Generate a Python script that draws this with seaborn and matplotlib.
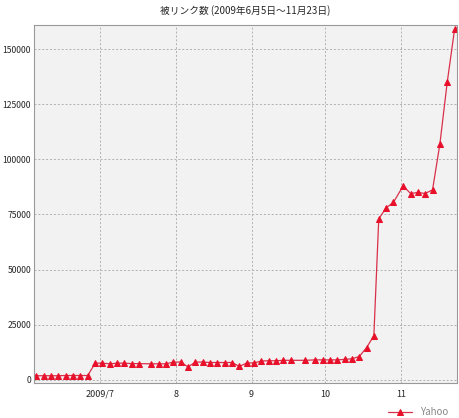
import matplotlib
matplotlib.use("Agg")
import matplotlib.pyplot as plt
import seaborn as sns
import pandas as pd

dates = ["2009-06-05","2009-06-08","2009-06-11","2009-06-14","2009-06-17","2009-06-20","2009-06-23","2009-06-26",
         "2009-06-29","2009-07-02","2009-07-05","2009-07-08","2009-07-11","2009-07-14","2009-07-17",
         "2009-07-22","2009-07-25","2009-07-28","2009-07-31","2009-08-03","2009-08-06","2009-08-09","2009-08-12",
         "2009-08-15","2009-08-18","2009-08-21","2009-08-24","2009-08-27","2009-08-30","2009-09-02","2009-09-05",
         "2009-09-08","2009-09-11","2009-09-14","2009-09-17","2009-09-23","2009-09-27","2009-09-30","2009-10-03",
         "2009-10-06","2009-10-09","2009-10-12","2009-10-15","2009-10-18","2009-10-21","2009-10-23","2009-10-26",
         "2009-10-29","2009-11-02","2009-11-05","2009-11-08","2009-11-11","2009-11-14","2009-11-17","2009-11-20",
         "2009-11-23"]
yahoo = [1800,1800,1800,1800,1900,1900,1900,1900,
         7500,7500,7200,7500,7500,7300,7300,
         7200,7200,7200,8000,8000,5800,8000,8000,
         7800,7800,7800,7800,6000,7600,7600,8500,
         8600,8600,8800,8800,8800,9000,9000,9000,
         9000,9200,9500,10500,14500,20000,73000,78000,
         80500,88000,84500,85000,84500,86200,107000,135000,
         159000]
df = pd.DataFrame({"date": pd.to_datetime(dates), "Yahoo": yahoo})

sns.set_style("white")
plt.rcParams['font.family'] = ['Noto Sans CJK JP', 'DejaVu Sans']

fig = plt.figure(figsize=(4.6, 4.18), dpi=100)
ax = fig.add_axes([34/460, 1-383/418, 423/460, 358/418])
ax.set_facecolor("#f2f2f2")
sns.lineplot(data=df, x="date", y="Yahoo", ax=ax, color="#d9304a", lw=0.9,
             marker="^", markersize=5, markerfacecolor="#e8102a", markeredgecolor="#e8102a",
             legend=False)
ax.set_xlim(pd.Timestamp("2009-06-04"), pd.Timestamp("2009-11-24"))
ax.set_ylim(-1500, 161000)
ax.set_yticks([0, 25000, 50000, 75000, 100000, 125000, 150000])
ticks = pd.to_datetime(["2009-07-01","2009-08-01","2009-09-01","2009-10-01","2009-11-01"])
ax.set_xticks(ticks)
ax.set_xticklabels(["2009/7","8","9","10","11"])
ax.grid(True, color="#b0b0b0", ls=(0,(2,2)), lw=0.7)
ax.tick_params(axis="y", labelsize=6.2, length=0, pad=2)
ax.tick_params(axis="x", labelsize=6.5, length=0, pad=5)
ax.set_xlabel(""); ax.set_ylabel("")
for s in ax.spines.values():
    s.set_color("#999999"); s.set_linewidth(0.8)
ax.set_title("被リンク数 (2009年6月5日～11月23日)", fontsize=7, pad=8)
ax.legend(["Yahoo"], loc="lower right", bbox_to_anchor=(1.0, -0.12), frameon=False,
          fontsize=7, labelcolor="#888888", handlelength=2.5)
fig.savefig("out.png", dpi=100)
